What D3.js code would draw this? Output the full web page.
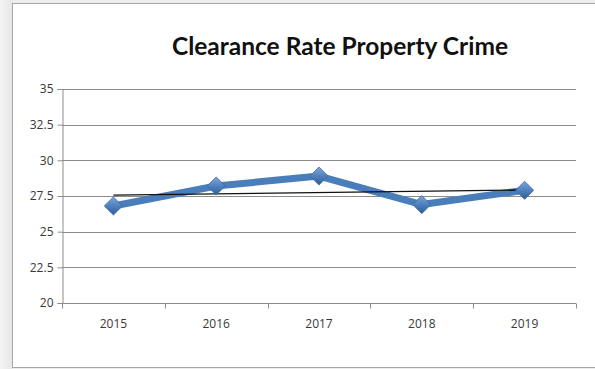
<!DOCTYPE html>
<html>
<head>
<meta charset="utf-8">
<script src="https://cdn.jsdelivr.net/npm/d3@7/dist/d3.min.js"></script>
<style>
  html, body { margin: 0; padding: 0; background: #ededed; }
  svg { display: block; }
</style>
</head>
<body>
<svg id="chart" width="595" height="369"></svg>
<script>
// Chart data
const years = ["2015", "2016", "2017", "2018", "2019"];
const clearanceRate = [26.8, 28.2, 28.9, 26.9, 27.9];
const yTicks = [20, 22.5, 25, 27.5, 30, 32.5, 35];
const chartTitle = "Clearance Rate Property Crime";

const svg = d3.select("#chart");
const W = 595, H = 369;
const margin = { left: 62, right: 19, top: 89, bottom: 66 };
const labelFont = "'Open Sans', sans-serif";

// Backdrop with soft shading on the left and the white chart panel
const defs = svg.append("defs");
const shade = defs.append("linearGradient").attr("id", "shade").attr("x1", 0).attr("x2", 1);
shade.append("stop").attr("offset", 0).attr("stop-color", "#f4f4f4");
shade.append("stop").attr("offset", 1).attr("stop-color", "#e6e6e6");
svg.append("rect").attr("x", 0).attr("y", 0).attr("width", 13).attr("height", H).attr("fill", "url(#shade)");
svg.append("rect").attr("x", 12.5).attr("y", 3.5).attr("width", 620).attr("height", 364)
  .attr("fill", "#ffffff").attr("stroke", "#a6a6a6").attr("stroke-width", 1);

// Scales
const x = d3.scaleBand().domain(years).range([margin.left, W - margin.right]).paddingInner(0).paddingOuter(0);
const y = d3.scaleLinear().domain([20, 35]).range([H - margin.bottom, margin.top]);

// Horizontal gridlines
svg.append("g").selectAll("line").data(yTicks.filter(d => d > 20)).join("line")
  .attr("x1", margin.left).attr("x2", W - margin.right)
  .attr("y1", d => Math.round(y(d)) + 0.5).attr("y2", d => Math.round(y(d)) + 0.5)
  .attr("stroke", "#8c8c8c").attr("stroke-width", 1);

// Y axis
const yAxis = svg.append("g").attr("transform", `translate(${margin.left + 0.5},0)`)
  .call(d3.axisLeft(y).tickValues(yTicks).tickSize(5).tickPadding(4).tickFormat(d => String(d)));
yAxis.select(".domain").attr("stroke", "#8c8c8c");
yAxis.selectAll(".tick line").attr("stroke", "#8c8c8c");
yAxis.selectAll(".tick text").attr("fill", "#383838").style("font-family", labelFont).style("font-size", "12px");

// X axis with ticks at category boundaries
const xAxisY = Math.round(y(20)) + 0.5;
const xg = svg.append("g");
xg.append("line").attr("x1", margin.left).attr("x2", W - margin.right)
  .attr("y1", xAxisY).attr("y2", xAxisY).attr("stroke", "#8c8c8c");
const bounds = years.map(d => x(d)).concat([x(years[years.length - 1]) + x.bandwidth()]);
xg.selectAll("line.tk").data(bounds).join("line").attr("class", "tk")
  .attr("x1", d => Math.round(d) + 0.5).attr("x2", d => Math.round(d) + 0.5)
  .attr("y1", xAxisY).attr("y2", xAxisY + 5).attr("stroke", "#8c8c8c");
xg.selectAll("text").data(years).join("text")
  .attr("x", d => x(d) + x.bandwidth() / 2).attr("y", xAxisY + 24)
  .attr("text-anchor", "middle").attr("fill", "#383838")
  .style("font-family", labelFont).style("font-size", "12px")
  .text(d => d);

const cx = d => x(d) + x.bandwidth() / 2;

// Series line
const line = d3.line().x((d, i) => cx(years[i])).y(d => y(d));
svg.append("path").datum(clearanceRate).attr("d", line)
  .attr("fill", "none").attr("stroke", "#4a7ebb").attr("stroke-width", 7)
  .attr("stroke-linejoin", "round").attr("stroke-linecap", "round");

// Linear trendline (least squares fit of the series)
const n = clearanceRate.length;
const xs = d3.range(n);
const mx = d3.mean(xs), my = d3.mean(clearanceRate);
const slope = d3.sum(xs, (v, i) => (v - mx) * (clearanceRate[i] - my)) / d3.sum(xs, v => (v - mx) ** 2);
const icpt = my - slope * mx;
svg.append("line")
  .attr("x1", cx(years[0])).attr("y1", y(icpt))
  .attr("x2", cx(years[n - 1])).attr("y2", y(icpt + slope * (n - 1)))
  .attr("stroke", "#111").attr("stroke-width", 1.3);

// Diamond markers with a bevelled look
const grad = defs.append("linearGradient").attr("id", "mk").attr("x1", 0).attr("y1", 0).attr("x2", 0).attr("y2", 1);
grad.append("stop").attr("offset", 0).attr("stop-color", "#7ea6da");
grad.append("stop").attr("offset", 0.5).attr("stop-color", "#4f81bd");
grad.append("stop").attr("offset", 1).attr("stop-color", "#2f5d94");
const diamond = d3.symbol().type(d3.symbolDiamond2).size(210);
svg.append("g").selectAll("path").data(clearanceRate).join("path")
  .attr("transform", (d, i) => `translate(${cx(years[i])},${y(d)})`)
  .attr("d", diamond())
  .attr("fill", "url(#mk)").attr("stroke", "#3a6aa3").attr("stroke-width", 0.8);

// Title
svg.append("text").attr("x", 340).attr("y", 55).attr("text-anchor", "middle")
  .style("font-family", "Lato, 'Open Sans', sans-serif").style("font-weight", "bold").style("font-size", "24.5px")
  .attr("fill", "#111").text(chartTitle);
</script>
</body>
</html>
